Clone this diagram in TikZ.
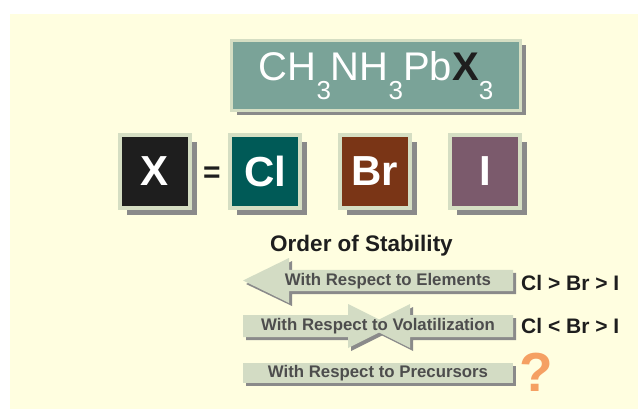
\documentclass[tikz,border=0pt]{standalone}
\usepackage{fontspec}
\setmainfont{Liberation Sans}
\usetikzlibrary{shadows}
\definecolor{bgyellow}{HTML}{FFFEE0}
\definecolor{formteal}{HTML}{7AA398}
\definecolor{rimgreen}{HTML}{D5DEC3}
\definecolor{shadegray}{HTML}{8A8A8A}
\definecolor{xblack}{HTML}{1E1E1E}
\definecolor{clteal}{HTML}{005A57}
\definecolor{brbrown}{HTML}{7A3516}
\definecolor{ipurple}{HTML}{7B5A6C}
\definecolor{arrowfill}{HTML}{D3DCC4}
\definecolor{arrowtext}{HTML}{4D4D4D}
\definecolor{qorange}{HTML}{F5A063}
\newcommand{\sub}[1]{\raisebox{-19pt}{\fontsize{26}{26}\selectfont #1}}
\begin{document}
\begin{tikzpicture}[x=1pt,y=-1pt,
  tile/.style={draw=rimgreen, line width=4pt, minimum width=70pt, minimum height=73pt,
    inner sep=0pt, text=white, font=\fontsize{42}{42}\selectfont\bfseries,
    drop shadow={shadow xshift=7pt, shadow yshift=-7pt, fill=shadegray, opacity=1}},
  formula/.style={draw=rimgreen, line width=3pt, fill=formteal, minimum width=289pt,
    minimum height=70pt, inner sep=0pt, text=white, font=\fontsize{40}{40}\selectfont,
    drop shadow={shadow xshift=5pt, shadow yshift=-5pt, fill=shadegray, opacity=1}},
  arrowbody/.style={fill=arrowfill},
  arrowshade/.style={fill=shadegray},
  arrowlabel/.style={text=arrowtext, font=\fontsize{16.8}{16.8}\selectfont\bfseries, inner sep=0pt},
  order/.style={text=xblack, font=\fontsize{21}{21}\selectfont\bfseries, anchor=west, inner sep=0pt},
]
\useasboundingbox (0,0) rectangle (638,409);
\fill[bgyellow] (10,14) rectangle (638,409);

% formula box
\node[formula] (form) at (376,75.5) {CH\sub{3}NH\sub{3}Pb{\bfseries\color{xblack}X}\sub{3}};

% element tiles
\node[tile, fill=xblack] (xt) at (155,171.5) {X};
\node[text=xblack, font=\fontsize{30}{30}\selectfont\bfseries, inner sep=0pt] (eq) at (212,175) {=};
\node[tile, fill=clteal] (cl) at (265,171.5) {Cl};
\node[tile, fill=brbrown] (br) at (375,171.5) {Br};
\node[tile, fill=ipurple] (io) at (485,171.5) {I};

\node[text=xblack, font=\fontsize{22.5}{22.5}\selectfont\bfseries, inner sep=0pt] (ord) at (361.5,246) {Order of Stability};

% arrow 1 (left)
\fill[arrowshade] (516,273) -- (292,273) -- (292,261) -- (246,284) -- (292,306) -- (292,294) -- (516,294) -- cycle;
\fill[arrowbody] (513,270) -- (289,270) -- (289,258) -- (243,280.5) -- (289,303) -- (289,291) -- (513,291) -- cycle;
\node[arrowlabel] (a1) at (388,281.5) {With Respect to Elements};

% arrow 2 (crossed)
\fill[arrowshade] (246,318) -- (351,318) -- (351,307) -- (395,329) -- (351,351) -- (351,340) -- (246,340) -- cycle;
\fill[arrowshade] (516,318) -- (413,318) -- (413,307) -- (369,329) -- (413,351) -- (413,340) -- (516,340) -- cycle;
\fill[arrowbody] (243,315) -- (348,315) -- (348,304) -- (392,326) -- (348,348) -- (348,337) -- (243,337) -- cycle;
\fill[arrowbody] (513,315) -- (410,315) -- (410,304) -- (366,326) -- (410,348) -- (410,337) -- (513,337) -- cycle;
\node[arrowlabel] (a2) at (378,326.5) {With Respect to Volatilization};

% bar 3
\fill[arrowshade] (246,366) rectangle (516,386);
\fill[arrowbody] (243,363) rectangle (513,383);
\node[arrowlabel] (a3) at (378,373.5) {With Respect to Precursors};

% orders
\node[order] (o1) at (521,283) {Cl > Br > I};
\node[order] (o2) at (521,326) {Cl < Br > I};
\node[text=qorange, font=\fontsize{55}{55}\selectfont\bfseries, anchor=west, inner sep=0pt] (q) at (519,372) {?};
\end{tikzpicture}
\end{document}
